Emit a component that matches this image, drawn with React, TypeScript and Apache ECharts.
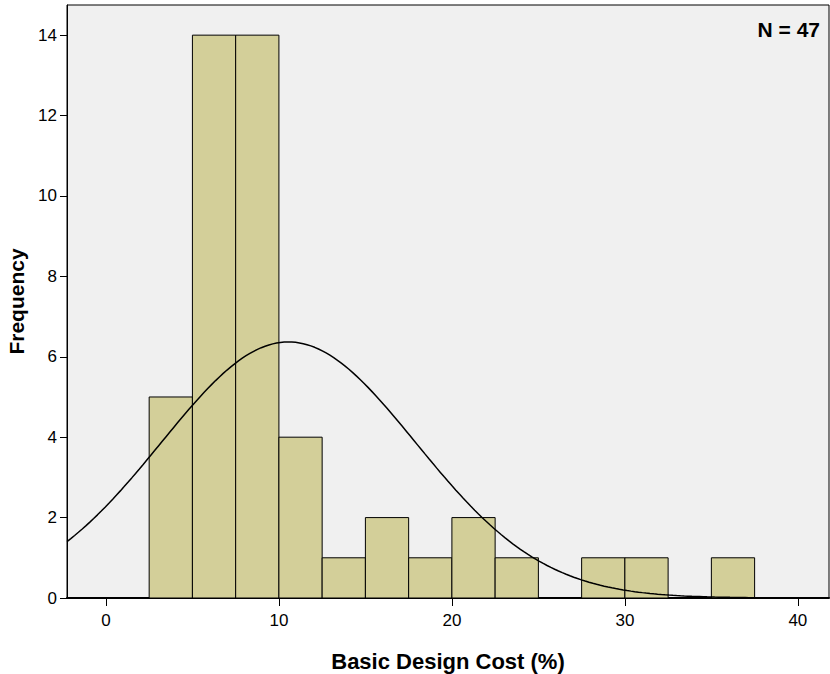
import React, { useEffect, useRef } from "react";
import * as echarts from "echarts";

// Histogram bins (lower edge, upper edge) and counts
const binStarts = [2.5, 5, 7.5, 10, 12.5, 15, 17.5, 20, 22.5, 27.5, 30, 35];
const binEnds = [5, 7.5, 10, 12.5, 15, 17.5, 20, 22.5, 25, 30, 32.5, 37.5];
const counts = [5, 14, 14, 4, 1, 2, 1, 2, 1, 1, 1, 1];

// Fitted normal curve parameters
const N_TOTAL = 47;
const MEAN = 10.55;
const SD = 7.36;
const BIN_WIDTH = 2.5;

const xTicks = [0, 10, 20, 30, 40];
const X_MIN = -2.25;
const X_MAX = 41.8;

export default function App() {
  const ref = useRef<HTMLDivElement>(null);
  useEffect(() => {
    if (!ref.current) return;
    const chart = echarts.init(ref.current, null, { renderer: "svg" });

    const bars = binStarts.map((s, i) => [s, binEnds[i], counts[i]]);
    const curve: number[][] = [];
    const steps = 200;
    for (let i = 0; i <= steps; i++) {
      const x = X_MIN + ((X_MAX - X_MIN) * i) / steps;
      const z = (x - MEAN) / SD;
      const y = (N_TOTAL * BIN_WIDTH) / (SD * Math.sqrt(2 * Math.PI)) * Math.exp(-0.5 * z * z);
      curve.push([x, y]);
    }

    chart.setOption({
      animation: false,
      grid: {
        left: 67,
        top: 5,
        right: 1,
        bottom: 76,
        containLabel: false,
        outerBoundsMode: "none",
        show: true,
        backgroundColor: "#f0f0f0",
        borderColor: "#000",
        borderWidth: 1,
      },
      xAxis: {
        type: "value",
        min: X_MIN,
        max: X_MAX,
        name: "Basic Design Cost (%)",
        nameLocation: "middle",
        nameGap: 52,
        nameTextStyle: {
          fontFamily: "Liberation Sans Narrow, Liberation Sans, Arial",
          fontWeight: "bold",
          fontSize: 22,
          color: "#000",
        },
        axisLine: { show: true, onZero: false, lineStyle: { color: "#000", width: 2 } },
        axisTick: {
          show: true,
          length: 8,
          customValues: xTicks,
          lineStyle: { color: "#000", width: 1 },
        },
        axisLabel: {
          customValues: xTicks,
          margin: 14,
          fontFamily: "Liberation Sans Narrow, Liberation Sans, Arial",
          fontSize: 17,
          color: "#000",
        },
        splitLine: { show: false },
      },
      yAxis: {
        type: "value",
        min: 0,
        max: 14.75,
        interval: 2,
        name: "Frequency",
        nameLocation: "middle",
        nameGap: 37,
        nameRotate: 90,
        nameTextStyle: {
          fontFamily: "Liberation Sans, Arial",
          fontWeight: "bold",
          fontSize: 21,
          color: "#000",
        },
        axisLine: { show: true, onZero: false, lineStyle: { color: "#000", width: 1 } },
        axisTick: { show: true, length: 7, lineStyle: { color: "#000" } },
        axisLabel: {
          margin: 10,
          fontFamily: "Liberation Sans, Arial",
          fontSize: 17,
          color: "#000",
          showMaxLabel: false,
        },
        splitLine: { show: false },
      },
      graphic: [
        {
          type: "text",
          right: 10,
          top: 19,
          style: {
            text: "N = " + N_TOTAL,
            fontFamily: "Liberation Sans, Arial",
            fontWeight: "bold",
            fontSize: 21,
            fill: "#000",
          },
        },
      ],
      series: [
        {
          type: "custom",
          data: bars,
          encode: { x: [0, 1], y: 2 },
          renderItem: (params: any, api: any) => {
            const p0 = api.coord([api.value(0), api.value(2)]);
            const p1 = api.coord([api.value(1), 0]);
            return {
              type: "rect",
              shape: { x: p0[0], y: p0[1], width: p1[0] - p0[0], height: p1[1] - p0[1] },
              style: { fill: "#d3cf99", stroke: "#000", lineWidth: 1 },
            };
          },
          z: 2,
        },
        {
          type: "line",
          data: curve,
          showSymbol: false,
          symbol: "none",
          lineStyle: { color: "#000", width: 1.5 },
          clip: true,
          z: 3,
        },
      ],
    });
    return () => chart.dispose();
  }, []);
  return (
    <div
      ref={ref}
      style={{ position: "fixed", left: 0, top: 0, width: 830, height: 674, background: "#fff" }}
    />
  );
}
